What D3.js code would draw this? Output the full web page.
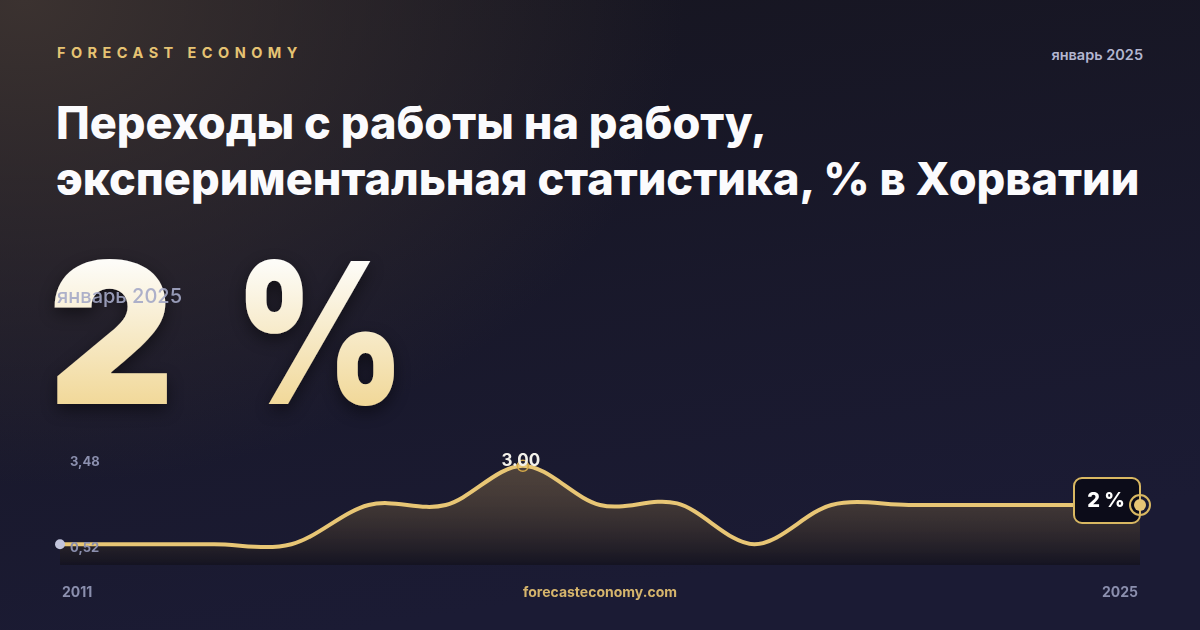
<!DOCTYPE html>
<html><head><meta charset="utf-8">
<script src="https://cdn.jsdelivr.net/npm/d3@7"></script>
<style>html,body{margin:0;padding:0;background:#151527;}svg{display:block;}</style>
</head><body>
<svg id="c" width="1200" height="630"></svg>
<script>
const years = [2011,2012,2013,2014,2015,2016,2017,2018,2019,2020,2021,2022,2023,2024,2025];
const values = [1,1,1,1,2,2,3,2,2.04,1,2,2,2,2,2];
const yTickLabels = ["3,48","0,52"];
const yDomain = [0.52,3.48];
const brand = "FORECAST ECONOMY";
const dateLabel = "январь 2025";
const titleLines = ["Переходы с работы на работу,","экспериментальная статистика, % в Хорватии"];
const bigNumber = "2";
const bigUnit = "%";
const peakLabel = "3.00";
const lastLabel = "2 %";
const site = "forecasteconomy.com";

const svg = d3.select("#c");
const W=1200,H=630;
const defs = svg.append("defs");
const bg = defs.append("linearGradient").attr("id","bg").attr("x1",0).attr("y1",0).attr("x2",0.3).attr("y2",1);
bg.append("stop").attr("offset","0%").attr("stop-color","#16151f");
bg.append("stop").attr("offset","100%").attr("stop-color","#1b1b34");
const glow = defs.append("radialGradient").attr("id","glow").attr("cx",0.02).attr("cy",0).attr("r",0.55).attr("gradientTransform","scale(1,1.4)");
glow.append("stop").attr("offset","0%").attr("stop-color","#3b3230").attr("stop-opacity",1);
glow.append("stop").attr("offset","100%").attr("stop-color","#3b3230").attr("stop-opacity",0);
function bigGrad(id, y1, y2){
  const g = defs.append("linearGradient").attr("id",id).attr("gradientUnits","userSpaceOnUse").attr("x1",0).attr("y1",y1).attr("x2",0).attr("y2",y2);
  g.append("stop").attr("offset","0%").attr("stop-color","#fdfcf8");
  g.append("stop").attr("offset","100%").attr("stop-color","#f1d898");
}
bigGrad("big",262,406);
bigGrad("big2",-142,2);
const area = defs.append("linearGradient").attr("id","area").attr("x1",0).attr("y1",0).attr("x2",0).attr("y2",1);
area.append("stop").attr("offset","0%").attr("stop-color","#7a6446").attr("stop-opacity",0.55);
area.append("stop").attr("offset","100%").attr("stop-color","#141320").attr("stop-opacity",0.9);
const sh = defs.append("filter").attr("id","sh").attr("x","-20%").attr("y","-20%").attr("width","140%").attr("height","140%");
sh.append("feDropShadow").attr("dx",0).attr("dy",6).attr("stdDeviation",8).attr("flood-color","#000").attr("flood-opacity",0.45);

svg.append("rect").attr("width",W).attr("height",H).attr("fill","url(#bg)");
svg.append("rect").attr("width",W).attr("height",H).attr("fill","url(#glow)");

const F = "Inter, 'Noto Sans', sans-serif";
svg.append("text").attr("x",57).attr("y",58).text(brand)
  .attr("font-family",F).attr("font-weight",700).attr("font-size",14.5).attr("letter-spacing",5.45).attr("fill","#e6c373");
svg.append("text").attr("x",1143).attr("y",60).attr("text-anchor","end").text(dateLabel)
  .attr("font-family",F).attr("font-weight",600).attr("font-size",14.5).attr("fill","#b3b6d0");

const tl = svg.append("text").attr("font-family",F).attr("font-weight",800).attr("font-size",45.1).attr("fill","#fbfbfd");
titleLines.forEach((t,i)=>tl.append("tspan").attr("x",56).attr("y",139+i*56).text(t));

const bigG = svg.append("g").attr("filter","url(#sh)");
bigG.append("text").attr("x",48).attr("y",404).text(bigNumber)
  .attr("font-family",F).attr("font-weight",900).attr("font-size",196).attr("fill","url(#big)");
bigG.append("text").attr("transform","translate(234,404) scale(0.84,1)").text(bigUnit)
  .attr("font-family",F).attr("font-weight",900).attr("font-size",196).attr("fill","url(#big2)");
svg.append("text").attr("x",57).attr("y",303).text(dateLabel)
  .attr("font-family",F).attr("font-weight",500).attr("font-size",20).attr("fill","#a4a8c6").attr("fill-opacity",0.9);

// chart
const x = d3.scaleLinear().domain(d3.extent(years)).range([60,1140]);
const y = d3.scaleLinear().domain(yDomain).range([563,447]);
const bottom = 565;
const data = years.map((yr,i)=>({yr,v:values[i]}));
const curve = d3.curveCardinal.tension(0);
svg.append("path").datum(data)
  .attr("d",d3.area().x(d=>x(d.yr)).y0(bottom).y1(d=>y(d.v)).curve(curve))
  .attr("fill","url(#area)");
svg.append("path").datum(data)
  .attr("d",d3.line().x(d=>x(d.yr)).y(d=>y(d.v)).curve(curve))
  .attr("fill","none").attr("stroke","#e8c675").attr("stroke-width",4).attr("stroke-linejoin","round");

// y labels
svg.selectAll(".yl").data(yTickLabels).enter().append("text")
  .attr("x",70).attr("y",(d,i)=>i===0?466:552).text(d=>d)
  .attr("font-family",F).attr("font-weight",700).attr("font-size",13).attr("fill","#8b8fae");

// start dot
svg.append("circle").attr("cx",x(years[0])).attr("cy",y(values[0])).attr("r",5).attr("fill","#c2c5dc");

// peak
const pi = values.indexOf(d3.max(values));
svg.append("circle").attr("cx",x(years[pi])).attr("cy",y(values[pi])).attr("r",5.5).attr("fill","none").attr("stroke","#d4a94a").attr("stroke-width",1.5);
svg.append("text").attr("x",x(years[pi])-2).attr("y",y(values[pi])).attr("text-anchor","middle").text(peakLabel)
  .attr("font-family",F).attr("font-weight",700).attr("font-size",17).attr("fill","#f3f1ea");

// end marker
const li = values.length-1;
const ex = x(years[li]), ey = y(values[li]);
svg.append("rect").attr("x",ex-66).attr("y",ey-27).attr("width",66).attr("height",45).attr("rx",8)
  .attr("fill","#0c0c19").attr("stroke","#d9b862").attr("stroke-width",2);
svg.append("text").attr("x",ex-34).attr("y",ey+2).attr("text-anchor","middle").text(lastLabel)
  .attr("font-family",F).attr("font-weight",800).attr("font-size",20).attr("fill","#ffffff");
svg.append("circle").attr("cx",ex).attr("cy",ey).attr("r",10).attr("fill","none").attr("stroke","#d9b862").attr("stroke-width",2);
svg.append("circle").attr("cx",ex).attr("cy",ey).attr("r",6).attr("fill","#e8c675");

// x labels
svg.append("text").attr("x",62).attr("y",597).text(years[0])
  .attr("font-family",F).attr("font-weight",700).attr("font-size",14).attr("fill","#8b8fae");
svg.append("text").attr("x",1138).attr("y",597).attr("text-anchor","end").text(years[li])
  .attr("font-family",F).attr("font-weight",700).attr("font-size",14).attr("fill","#8b8fae");
svg.append("text").attr("x",600).attr("y",597).attr("text-anchor","middle").text(site)
  .attr("font-family",F).attr("font-weight",700).attr("font-size",14).attr("fill","#d6b56c");
</script>
</body></html>
